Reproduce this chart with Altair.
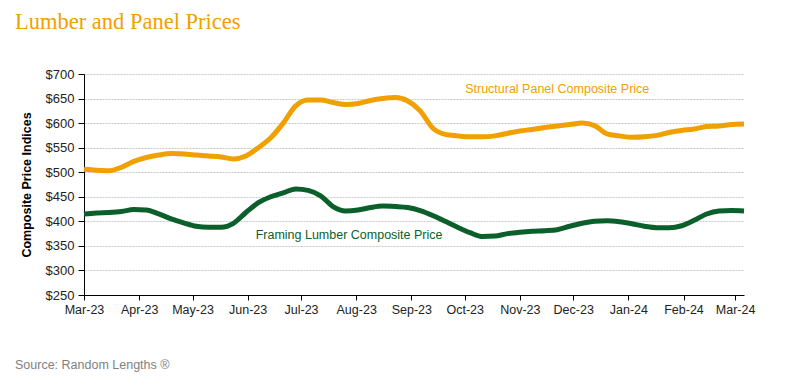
import altair as alt
import pandas as pd

# weekly observation dates (every 7 days from 2023-03-01)
dates = pd.date_range("2023-03-01", periods=54, freq="7D").strftime("%Y-%m-%d").tolist()

panel = [506, 504, 503, 510, 522, 530, 535, 538, 537, 535,
         533, 531, 527, 533, 550, 570, 600, 635, 647, 647,
         642, 638, 640, 646, 650, 652, 645, 625, 590, 577,
         574, 572, 572, 574, 579, 584, 587, 591, 594, 597,
         600, 595, 578, 574, 571, 572, 575, 581, 585, 588,
         593, 594, 597, 598]

lumber = [415, 417, 418, 420, 424, 423, 415, 405, 397, 390,
          388, 388, 396, 418, 438, 450, 458, 466, 463, 452,
          430, 421, 423, 428, 431, 430, 428, 422, 412, 400,
          388, 377, 369, 370, 375, 378, 380, 381, 383, 390,
          396, 400, 401, 399, 395, 390, 387, 387, 391, 402,
          415, 421, 422, 421]

series_names = ["Structural Panel Composite Price", "Framing Lumber Composite Price"]
series_colors = ["#F0A000", "#0A5F2A"]

label_dates = ["2023-11-22", "2023-07-28"]
label_values = [669, 372]

y_ticks = [250, 300, 350, 400, 450, 500, 550, 600, 650, 700]
month_ticks = pd.date_range("2023-03-01", "2024-03-01", freq="MS").strftime("%Y-%m-%d").tolist()

df = pd.DataFrame({
    "date": dates * 2,
    "value": panel + lumber,
    "series": [series_names[0]] * len(dates) + [series_names[1]] * len(dates),
})
lab = pd.DataFrame({"date": label_dates, "value": label_values, "series": series_names})

FONT = "Liberation Sans"

x_scale = alt.Scale(domain=["2023-03-01", "2024-03-06"], nice=False)
y_scale = alt.Scale(domain=[250, 700], nice=False, zero=False)
color_scale = alt.Scale(domain=series_names, range=series_colors)

x_axis = alt.Axis(values=month_ticks, tickCount=len(month_ticks), format="%b-%y",
                  title=None, grid=False,
                  labelFont=FONT, labelFontSize=12.5, labelColor="#222",
                  domainColor="#000", tickColor="#000", tickSize=5,
                  labelPadding=3, labelFlush=False, labelOverlap=False)
y_axis = alt.Axis(values=y_ticks, tickCount=len(y_ticks), format="$,.0f",
                  title="Composite Price Indices", titleFont=FONT, titleFontSize=12.5,
                  titleFontWeight="bold", titleColor="#000", titlePadding=12,
                  labelFont=FONT, labelFontSize=13, labelColor="#222",
                  labelOverlap=False,
                  domainColor="#000", tickColor="#000", tickSize=6, labelPadding=4,
                  grid=True, gridColor="#BBBBBB", gridDash=[2, 1], gridWidth=0.8)

lines = alt.Chart(df).mark_line(strokeWidth=5, interpolate="monotone").encode(
    x=alt.X("date:T", scale=x_scale, axis=x_axis),
    y=alt.Y("value:Q", scale=y_scale, axis=y_axis),
    color=alt.Color("series:N", scale=color_scale, legend=None),
    detail="series:N",
)

labels = alt.Chart(lab).mark_text(font=FONT, fontSize=12.5, align="center", baseline="middle").encode(
    x=alt.X("date:T", scale=x_scale, axis=x_axis),
    y=alt.Y("value:Q", scale=y_scale, axis=y_axis),
    text="series:N",
    color=alt.Color("series:N", scale=color_scale, legend=None),
)

title = alt.Chart(pd.DataFrame({"t": ["Lumber and Panel Prices"]})).mark_text(
    font="Georgia, Liberation Serif, DejaVu Serif", fontSize=22.5, color="#F0A000",
    align="left", baseline="alphabetic").encode(
    x=alt.value(-69), y=alt.value(-45), text="t:N")

source = alt.Chart(pd.DataFrame({"t": ["Source: Random Lengths ®"]})).mark_text(
    font=FONT, fontSize=12.5, color="#808080",
    align="left", baseline="middle").encode(
    x=alt.value(-69), y=alt.value(291), text="t:N")

chart = alt.layer(lines, labels, title, source).properties(
    width=660, height=221,
    autosize=alt.AutoSizeParams(type="none"),
    padding={"left": 76, "top": 66, "right": 39, "bottom": 78},
).configure_view(stroke=None)

chart.save("out.html", embed_options={"renderer": "svg", "actions": False})
